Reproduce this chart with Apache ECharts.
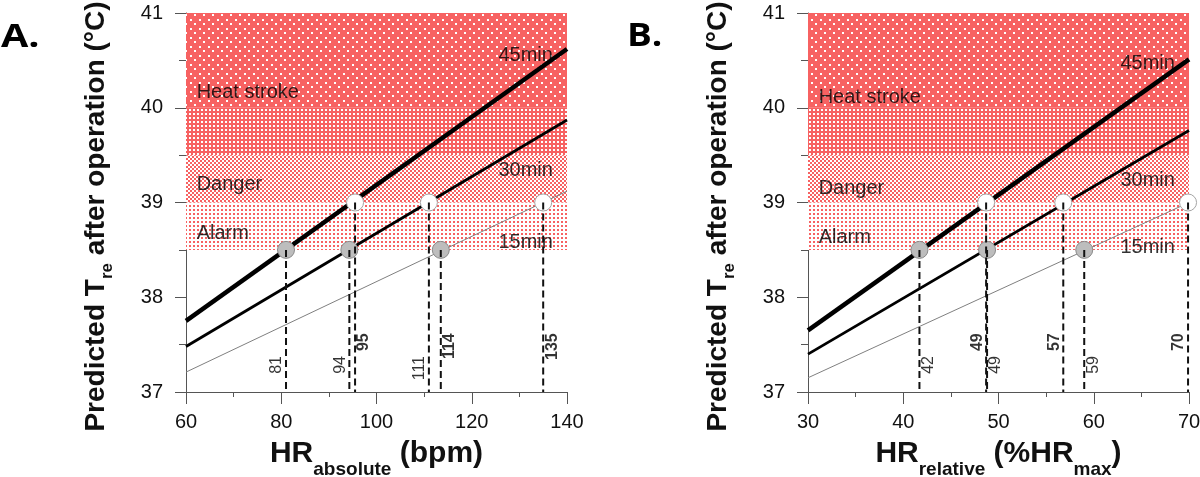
<!DOCTYPE html>
<html>
<head>
<meta charset="utf-8">
<script src="https://cdn.jsdelivr.net/npm/echarts@6/dist/echarts.min.js"></script>
<style>
html, body { margin: 0; padding: 0; background: #fff; }
#main { width: 1200px; height: 477px; }
</style>
</head>
<body>
<div id="main"></div>
<script>
// ---- panel A : absolute heart rate ----
var hrAbs = [60, 140];
var tre45A = [37.75, 40.62];
var tre30A = [37.48, 39.87];
var tre15A = [37.21, 39.12];
var alarmA = [[81, 38.5], [94.3, 38.5], [113.5, 38.5]];   // grey points
var limitA = [[95.5, 39], [111, 39], [135, 39]];          // white points
var cutA = [[81, 38.5], [94.3, 38.5], [95.5, 39], [111, 39], [113.5, 38.5], [135, 39]];
var cutTextA = ['81', '94', '95', '111', '114', '135'];
var cutBoldA = [false, false, true, false, true, true];
var cutSideA = [-1, -1, 1, -1, 1, 1];

// ---- panel B : relative heart rate ----
var hrRel = [30, 70];
var tre45B = [37.65, 40.51];
var tre30B = [37.40, 39.76];
var tre15B = [37.15, 39.0];
var alarmB = [[41.7, 38.5], [48.8, 38.5], [59, 38.5]];
var limitB = [[48.7, 39], [56.8, 39], [69.9, 39]];
var cutB = [[41.7, 38.5], [48.7, 39], [48.8, 38.5], [56.8, 39], [59, 38.5], [69.9, 39]];
var cutTextB = ['42', '49', '49', '57', '59', '70'];
var cutBoldB = [false, true, false, true, false, true];
var cutSideB = [1, -1, 1, -1, 1, -1];

// temperature zones (lower, upper, style index)
var zones = [[40, 41, 0], [39.5, 40, 1], [39, 39.5, 2], [38.5, 39, 3]];
var zoneNames = ['Heat stroke', 'Danger', 'Alarm'];
var zoneLabelY_A = [40.16, 39.19, 38.67];
var zoneLabelY_B = [40.11, 39.15, 38.63];
var minNames = ['45min', '30min', '15min'];
var minLabelY_A = [40.55, 39.34, 38.58];
var minLabelY_B = [40.47, 39.23, 38.52];

var yMin = 37, yMax = 41;
var FONT = 'Liberation Sans, Arial, sans-serif';
var RED = '#f76262';

function makePattern(size, bg, fg, cells) {
    var c = document.createElement('canvas');
    c.width = size; c.height = size;
    var g = c.getContext('2d');
    g.fillStyle = bg; g.fillRect(0, 0, size, size);
    g.fillStyle = fg;
    cells.forEach(function (r) { g.fillRect(r[0], r[1], r[2], r[3]); });
    return { image: c, repeat: 'repeat' };
}
var patterns = [
    makePattern(9, RED, '#fff', [[1, 1, 2, 2], [5, 5, 2, 2]]),
    makePattern(4, RED, '#fff', [[1, 1, 2, 2]]),
    makePattern(4, '#fff', RED, [[0, 0, 2, 2], [2, 2, 2, 2]]),
    makePattern(4, '#fff', RED, [[1, 1, 2, 2]])
];

function zip(xs, ys) { return xs.map(function (x, i) { return [x, ys[i]]; }); }

function buildPanel(idx, xs, t45, t30, t15, alarm, limit, cut, cutText, cutBold, cutSide, zoneY, minY, xLo, xHi) {
    var base = { xAxisIndex: idx, yAxisIndex: idx, silent: true, animation: false };
    var s = [];
    // zones
    s.push(Object.assign({
        type: 'custom', z: 1, data: zones,
        renderItem: function (params, api) {
            var cs = params.coordSys;
            var top = api.coord([xLo, api.value(1)]);
            var bot = api.coord([xLo, api.value(0)]);
            return { type: 'rect', shape: { x: cs.x, y: top[1], width: cs.width, height: bot[1] - top[1] },
                style: { fill: patterns[api.value(2)] } };
        }
    }, base));
    // zone names
    s.push(Object.assign({
        type: 'scatter', z: 2, symbolSize: 0,
        data: zoneNames.map(function (n, i) { return { name: n, value: [xLo + (xHi - xLo) * 0.028, zoneY[i]] }; }),
        label: { show: true, position: 'right', distance: 0, formatter: '{b}', fontSize: 20, color: '#000', fontFamily: FONT }
    }, base));
    // minute labels
    s.push(Object.assign({
        type: 'scatter', z: 2, symbolSize: 0,
        data: minNames.map(function (n, i) { return { name: n, value: [xLo + (xHi - xLo) * 0.82, minY[i]] }; }),
        label: { show: true, position: 'right', distance: 0, formatter: '{b}', fontSize: 20, color: '#000', fontFamily: FONT }
    }, base));
    // regression lines
    s.push(Object.assign({ type: 'line', z: 3, data: zip(xs, t45), symbol: 'none', lineStyle: { width: 4.5, color: '#000' } }, base));
    s.push(Object.assign({ type: 'line', z: 3, data: zip(xs, t30), symbol: 'none', lineStyle: { width: 2.8, color: '#000' } }, base));
    s.push(Object.assign({ type: 'line', z: 3, data: zip(xs, t15), symbol: 'none', lineStyle: { width: 1, color: '#808080' } }, base));
    // markers
    s.push(Object.assign({ type: 'scatter', z: 4, data: alarm, symbolSize: 17,
        itemStyle: { color: '#bdbdbd', borderColor: '#8a8a8a', borderWidth: 1, opacity: 1 } }, base));
    s.push(Object.assign({ type: 'scatter', z: 4, data: limit, symbolSize: 17,
        itemStyle: { color: '#fff', borderColor: '#a5a5a5', borderWidth: 1, opacity: 1 } }, base));
    // dashed drop lines
    s.push(Object.assign({
        type: 'custom', z: 5, data: cut,
        renderItem: function (params, api) {
            var a = api.coord([api.value(0), api.value(1)]);
            var b = api.coord([api.value(0), yMin]);
            return { type: 'line', shape: { x1: a[0], y1: a[1], x2: b[0], y2: b[1] },
                style: { stroke: '#111', lineWidth: 2, lineDash: [7, 4] } };
        }
    }, base));
    // drop line values (offset is in the rotated frame: local y -> screen x)
    s.push(Object.assign({
        type: 'scatter', z: 6, symbolSize: 0,
        data: cut.map(function (c, i) {
            return {
                value: [c[0], cutBold[i] ? 37.62 : 37.38],
                label: { formatter: cutText[i], fontWeight: cutBold[i] ? 'bold' : 'normal', offset: [0, cutSide[i] * 9] }
            };
        }),
        label: { show: true, position: 'inside', rotate: 90, align: 'right', verticalAlign: 'middle',
            fontSize: 16, color: '#000', fontFamily: FONT }
    }, base));
    return s;
}

function xAxisCfg(idx, lo, hi, step, name) {
    return {
        type: 'value', gridIndex: idx, min: lo, max: hi, interval: step,
        splitLine: { show: false },
        axisLine: { onZero: false, lineStyle: { color: '#555', width: 1 } },
        axisTick: { length: 12, lineStyle: { color: '#555' } },
        minorTick: { show: true, splitNumber: 2, length: 5, lineStyle: { color: '#555' } },
        axisLabel: { fontSize: 20, color: '#111', margin: 20, fontFamily: FONT },
        name: name, nameLocation: 'middle', nameGap: 47,
        nameTextStyle: {
            rich: {
                m: { fontSize: 30, fontWeight: 'bold', color: '#111', fontFamily: FONT, lineHeight: 30, verticalAlign: 'top' },
                s: { fontSize: 19, fontWeight: 'bold', color: '#111', fontFamily: FONT, lineHeight: 62 }
            }
        }
    };
}

function yAxisCfg(idx) {
    return {
        type: 'value', gridIndex: idx, min: yMin, max: yMax, interval: 1,
        splitLine: { show: false },
        axisLine: { show: true, onZero: false, lineStyle: { color: '#555', width: 1 } },
        axisTick: { show: true, length: 11, lineStyle: { color: '#555' } },
        minorTick: { show: true, splitNumber: 2, length: 7, lineStyle: { color: '#555' } },
        axisLabel: { fontSize: 20, color: '#111', margin: 23, fontFamily: FONT },
        name: '{m|Predicted T}{s|re}{m| after operation (°C)}',
        nameLocation: 'middle', nameRotate: 90, nameGap: 54,
        nameTextStyle: {
            padding: [0, 28, 0, 0],
            rich: {
                m: { fontSize: 28, fontWeight: 'bold', color: '#111', fontFamily: FONT, lineHeight: 30, verticalAlign: 'top' },
                s: { fontSize: 17, fontWeight: 'bold', color: '#111', fontFamily: FONT, lineHeight: 50 }
            }
        }
    };
}

var myChart = echarts.init(document.getElementById('main'), null, { renderer: 'canvas' });

var series = []
    .concat(buildPanel(0, hrAbs, tre45A, tre30A, tre15A, alarmA, limitA, cutA, cutTextA, cutBoldA, cutSideA, zoneLabelY_A, minLabelY_A, 60, 140))
    .concat(buildPanel(1, hrRel, tre45B, tre30B, tre15B, alarmB, limitB, cutB, cutTextB, cutBoldB, cutSideB, zoneLabelY_B, minLabelY_B, 30, 70));

var option = {
    animation: false,
    backgroundColor: '#fff',
    grid: [
        { left: 186, top: 13, width: 381, height: 379, containLabel: false, outerBoundsMode: 'none' },
        { left: 808, top: 13, width: 381, height: 379, containLabel: false, outerBoundsMode: 'none' }
    ],
    xAxis: [
        xAxisCfg(0, 60, 140, 20, '{m|HR}{s|absolute}{m| (bpm)}'),
        xAxisCfg(1, 30, 70, 10, '{m|HR}{s|relative}{m| (%HR}{s|max}{m|)}')
    ],
    yAxis: [yAxisCfg(0), yAxisCfg(1)],
    graphic: [
        { type: 'text', left: 1, top: 21, scaleX: 1.2, style: { text: 'A.', font: 'bold 33px "Open Sans", sans-serif', fill: '#000' } },
        { type: 'text', left: 627, top: 20, scaleX: 1.12, style: { text: 'B.', font: 'bold 33px "Open Sans", sans-serif', fill: '#000' } }
    ],
    series: series
};

myChart.setOption(option);
</script>
</body>
</html>
